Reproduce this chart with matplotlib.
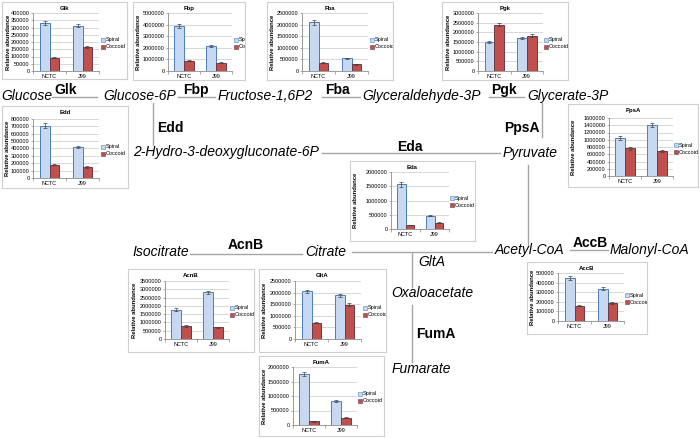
import numpy as np
import matplotlib.pyplot as plt
from matplotlib.patches import Rectangle

plt.rcParams['font.family'] = ['Liberation Sans', 'DejaVu Sans']

W, H = 700, 438

strains = ['NCTC', 'J99']
enzymes = ['Glk', 'Fbp', 'Fba', 'Pgk', 'Edd', 'PpsA', 'Eda', 'AcnB', 'GltA', 'FumA', 'AccB']
spiral = [[330000, 313000], [3900000, 2180000], [2100000, 550000], [1480000, 1700000],
          [710000, 420000], [1040000, 1410000], [1570000, 460000], [1780000, 2820000],
          [2050000, 1880000], [1760000, 840000], [445000, 338000]]
spiral_err = [[15000, 12000], [150000, 100000], [100000, 15000], [50000, 60000],
              [30000, 20000], [50000, 60000], [80000, 20000], [80000, 100000],
              [80000, 80000], [80000, 30000], [20000, 15000]]
coccoid = [[93000, 163000], [870000, 700000], [350000, 290000], [2400000, 1830000],
           [180000, 150000], [770000, 690000], [140000, 220000], [800000, 700000],
           [700000, 1480000], [130000, 250000], [160000, 183000]]
coccoid_err = [[5000, 6000], [50000, 40000], [20000, 10000], [80000, 70000],
               [10000, 8000], [40000, 30000], [10000, 15000], [50000, 40000],
               [30000, 60000], [10000, 15000], [8000, 10000]]
y_max = [400000, 5000000, 2500000, 3000000, 800000, 1600000, 2000000, 3500000,
         2500000, 2000000, 500000]
y_step = [50000, 1000000, 500000, 500000, 100000, 200000, 500000, 500000,
          500000, 500000, 100000]

# layout in pixels: box (l, t, r, b), plot area (l, t, r, b), legend x
boxes = [(2, 2, 127, 79), (133, 2, 245, 80), (267, 2, 393, 80), (442, 2, 568, 80),
         (2, 106, 128, 188), (568, 104, 698, 187), (350, 161, 475, 241),
         (128, 269, 254, 352), (259, 269, 386, 352), (259, 356, 384, 436),
         (527, 262, 647, 334)]
plots = [(33, 13, 99, 71), (168, 13, 232, 71), (302, 13, 368, 71), (478, 13, 543, 71),
         (33, 119, 99, 178), (609, 118, 673, 176), (391, 172, 449, 229),
         (165, 281, 229, 339), (295, 281, 361, 339), (293, 367, 357, 425),
         (558, 273, 624, 321)]
leg_x = [100, 233, 369, 543, 100, 673, 449, 229, 362, 357, 624]

metabolites = [('Glucose', 1, 96), ('Glucose-6P', 103, 96), ('Fructose-1,6P2', 218, 96),
               ('Glyceraldehyde-3P', 362, 96), ('Glycerate-3P', 527, 96),
               ('2-Hydro-3-deoxygluconate-6P', 133, 152), ('Pyruvate', 503, 153),
               ('Isocitrate', 132, 252), ('Citrate', 305, 252), ('Acetyl-CoA', 495, 250),
               ('Malonyl-CoA', 610, 250), ('Oxaloacetate', 391, 293), ('Fumarate', 392, 369)]
enzyme_labels = [('Glk', 66, 90), ('Fbp', 196, 90), ('Fba', 337, 90), ('Pgk', 504, 90),
                 ('Edd', 170, 128), ('Eda', 410, 147), ('PpsA', 522, 128),
                 ('AcnB', 246, 245), ('AccB', 590, 243), ('FumA', 436, 334)]
links = [((52, 97), (97, 97)), ((178, 97), (215, 97)), ((322, 97), (360, 97)),
         ((489, 97), (524, 97)), ((153, 103), (153, 145)), ((322, 153), (500, 153)),
         ((542, 103), (542, 137)), ((528, 165), (528, 245)), ((352, 252), (492, 252)),
         ((190, 254), (302, 254)), ((412, 253), (412, 287)), ((412, 305), (412, 362)),
         ((570, 250), (608, 250))]

SP_FILL, SP_EDGE = '#c6d9f0', '#4a7ebb'
CO_FILL, CO_EDGE = '#c0504d', '#6b3a48'


def frac(l, t, r, b):
    return [l / W, 1 - b / H, (r - l) / W, (b - t) / H]


fig = plt.figure(figsize=(7, 4.38), dpi=100)
bg = fig.add_axes([0, 0, 1, 1])
bg.set_xlim(0, W)
bg.set_ylim(H, 0)
bg.axis('off')

for (p1, p2) in links:
    bg.plot([p1[0], p2[0]], [p1[1], p2[1]], color='#a6a6a6', lw=1)
for name, x, y in metabolites:
    bg.text(x, y, name, fontsize=10, style='italic', ha='left', va='center')
for name, x, y in enzyme_labels:
    bg.text(x, y, name, fontsize=10, fontweight='bold', ha='center', va='center')
bg.text(418, 262, 'GltA', fontsize=10, style='italic', ha='left', va='center')

w = 0.3
x = np.arange(2) + 0.5
for i, name in enumerate(enzymes):
    bl, bt, br, bb = boxes[i]
    pl, pt, pr, pb = plots[i]

    # panel frame: its own axes so the legend gets clipped at the border
    fr = fig.add_axes(frac(bl, bt, br, bb))
    fr.set_xlim(bl, br)
    fr.set_ylim(bb, bt)
    fr.set_xticks([])
    fr.set_yticks([])
    for s in fr.spines.values():
        s.set_color('#d0d0d0')
        s.set_linewidth(0.8)
    fr.text((bl + br) / 2, bt + 6.5, name, fontsize=4.3, fontweight='bold',
            ha='center', va='center')
    fr.text(bl + 6, (pt + pb) / 2, 'Relative abundance', fontsize=4.2,
            fontweight='bold', rotation=90, ha='center', va='center')

    my = (pt + pb) / 2
    for k, (lab, fc, ec) in enumerate([('Spiral', SP_FILL, SP_EDGE),
                                       ('Coccoid', CO_FILL, CO_EDGE)]):
        yy = my - 2 + 7 * k
        fr.add_patch(Rectangle((leg_x[i] + 1, yy - 2), 4, 4, fc=fc, ec=ec, lw=0.4))
        fr.text(leg_x[i] + 6, yy, lab, fontsize=4, ha='left', va='center',
                clip_on=True)

    ax = fig.add_axes(frac(pl, pt, pr, pb))
    ax.patch.set_alpha(0)
    ekw = dict(elinewidth=0.5, capsize=1.2, capthick=0.5, ecolor='#404040')
    ax.bar(x - w / 2, spiral[i], w, yerr=spiral_err[i], color=SP_FILL,
           edgecolor=SP_EDGE, lw=0.7, error_kw=ekw)
    ax.bar(x + w / 2, coccoid[i], w, yerr=coccoid_err[i], color=CO_FILL,
           edgecolor=CO_EDGE, lw=0.7, error_kw=ekw)
    ax.set_xlim(0, 2)
    ax.set_ylim(0, y_max[i])
    ticks = np.arange(0, y_max[i] + y_step[i] / 2, y_step[i])
    ax.set_yticks(ticks, [str(int(v)) for v in ticks])
    ax.set_xticks(x, strains)
    ax.set_xticks([0, 1, 2], minor=True)
    ax.yaxis.grid(True, color='#c8c8c8', lw=0.5)
    ax.set_axisbelow(True)
    for s in ['top', 'right']:
        ax.spines[s].set_visible(False)
    for s in ['left', 'bottom']:
        ax.spines[s].set_color('#8c8c8c')
        ax.spines[s].set_linewidth(0.6)
    ax.tick_params(axis='x', which='major', length=0, labelsize=4, pad=2.5)
    ax.tick_params(axis='x', which='minor', length=2, width=0.5, color='#8c8c8c')
    ax.tick_params(axis='y', length=1.5, width=0.5, color='#8c8c8c', labelsize=4, pad=1)

fig.savefig('out.png', dpi=100)
